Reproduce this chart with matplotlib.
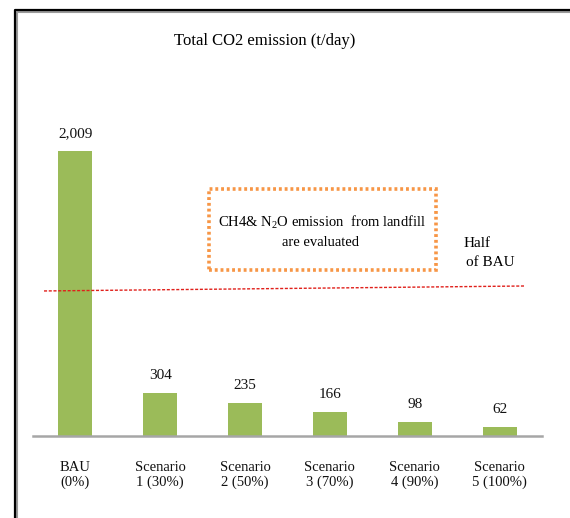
import matplotlib
matplotlib.use("Agg")
import matplotlib.pyplot as plt
from matplotlib.lines import Line2D
from matplotlib.patches import Rectangle

plt.rcParams['font.family'] = ['Liberation Serif', 'DejaVu Serif']
plt.rcParams['mathtext.fontset'] = 'custom'
plt.rcParams['mathtext.rm'] = 'Liberation Serif'
plt.rcParams['mathtext.default'] = 'rm'

categories = ["BAU\n(0%)", "Scenario\n1 (30%)", "Scenario\n2 (50%)",
              "Scenario\n3 (70%)", "Scenario\n4 (90%)", "Scenario\n5 (100%)"]
emissions = [2009, 304, 235, 166, 98, 62]
value_labels = ["2,009", "304", "235", "166", "98", "62"]
half_bau_line = [1022, 1057]   # reference line level at its left and right ends

fig = plt.figure(figsize=(5.70, 5.18), dpi=100)
ax = fig.add_axes([33 / 570, 82 / 518, 509 / 570, 340.6 / 518])

x = list(range(len(categories)))
bars = ax.bar(x, emissions, width=0.4, color="#9BBB59", zorder=2)
ax.set_xlim(-0.5, 5.5)
ax.set_ylim(0, 2400)

for xi, v, lab in zip(x, emissions, value_labels):
    ax.annotate(lab, (xi, v), xytext=(0, 8), textcoords="offset points",
                ha="center", va="bottom", fontsize=11, color="#111111")

ax.set_xticks(x)
ax.set_xticklabels(categories, fontsize=10.5, color="#111111", linespacing=1.1)
ax.tick_params(axis="x", length=0, pad=18)
ax.set_yticks([])
for s in ["top", "right", "left"]:
    ax.spines[s].set_visible(False)
ax.spines["bottom"].set_color("#A6A6A6")
ax.spines["bottom"].set_linewidth(1.8)

# half-of-BAU reference line
ax.plot([-0.37, 5.29], half_bau_line, color="#E0201B", linestyle=(0, (2.2, 1.2)),
        linewidth=1.0, zorder=3)
fig.text(477 / 570, 1 - 243 / 518, "Half", ha="center", va="center", fontsize=11)
fig.text(490 / 570, 1 - 263 / 518, "of BAU", ha="center", va="center", fontsize=11)

# dotted note box
box = Rectangle((209 / 570, 1 - 270 / 518), (436 - 209) / 570, (270 - 189) / 518,
                transform=fig.transFigure, fill=False, edgecolor="#F79646",
                linewidth=2.6, linestyle=(0, (0.8, 0.8)))
fig.add_artist(box)
fig.text(322 / 570, 1 - 222 / 518, "CH4& N$_2$O emission  from landfill",
         ha="center", va="center", fontsize=10.5)
fig.text(320 / 570, 1 - 242 / 518, "are evaluated",
         ha="center", va="center", fontsize=10.5)

fig.text(265 / 570, 1 - 41 / 518, "Total CO2 emission (t/day)",
         ha="center", va="center", fontsize=12)

# frame along the top and left edges
fig.add_artist(Line2D([16.5 / 570, 16.5 / 570, 1.0], [0.0, 1 - 11.5 / 518, 1 - 11.5 / 518],
                      transform=fig.transFigure, color="#9a9a9a", linewidth=1.5))
fig.add_artist(Line2D([15 / 570, 15 / 570, 1.0], [0.0, 1 - 10 / 518, 1 - 10 / 518],
                      transform=fig.transFigure, color="black", linewidth=1.6))

fig.savefig("out.png", dpi=100)
